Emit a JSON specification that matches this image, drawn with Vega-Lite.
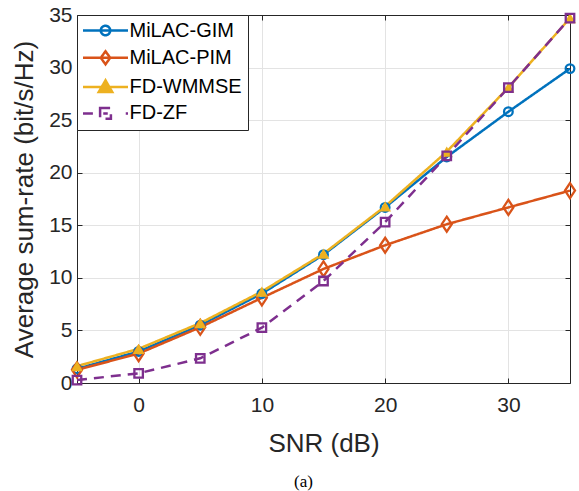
{
  "$schema": "https://vega.github.io/schema/vega-lite/v6.json",
  "width": 493,
  "height": 368,
  "autosize": {"type": "none"},
  "padding": {"left": 77, "top": 15, "right": 9, "bottom": 108},
  "background": "white",
  "title": {"text": "(a)", "orient": "bottom", "anchor": "middle", "frame": "group", "font": "Liberation Serif", "fontSize": 17, "fontWeight": "normal", "color": "#000000", "offset": 18, "dx": -20},
  "config": {
    "view": {"stroke": null},
    "axis": {"domainColor": "#262626", "tickColor": "#262626", "labelColor": "#262626", "titleColor": "#262626", "labelFont": "Liberation Sans", "titleFont": "Liberation Sans", "labelFontSize": 21, "titleFontSize": 26, "titleFontWeight": "normal", "gridColor": "#e3e3e3", "gridWidth": 1, "tickSize": -5, "domainWidth": 1, "tickWidth": 1}
  },
  "data": {"values": [
    {"snr": -5, "rate": 1.35, "series": "MiLAC-GIM"},
    {"snr": 0, "rate": 3.0, "series": "MiLAC-GIM"},
    {"snr": 5, "rate": 5.5, "series": "MiLAC-GIM"},
    {"snr": 10, "rate": 8.5, "series": "MiLAC-GIM"},
    {"snr": 15, "rate": 12.2, "series": "MiLAC-GIM"},
    {"snr": 20, "rate": 16.7, "series": "MiLAC-GIM"},
    {"snr": 25, "rate": 21.5, "series": "MiLAC-GIM"},
    {"snr": 30, "rate": 25.8, "series": "MiLAC-GIM"},
    {"snr": 35, "rate": 29.9, "series": "MiLAC-GIM"},
    {"snr": -5, "rate": 1.25, "series": "MiLAC-PIM"},
    {"snr": 0, "rate": 2.8, "series": "MiLAC-PIM"},
    {"snr": 5, "rate": 5.3, "series": "MiLAC-PIM"},
    {"snr": 10, "rate": 8.1, "series": "MiLAC-PIM"},
    {"snr": 15, "rate": 10.85, "series": "MiLAC-PIM"},
    {"snr": 20, "rate": 13.1, "series": "MiLAC-PIM"},
    {"snr": 25, "rate": 15.1, "series": "MiLAC-PIM"},
    {"snr": 30, "rate": 16.7, "series": "MiLAC-PIM"},
    {"snr": 35, "rate": 18.3, "series": "MiLAC-PIM"},
    {"snr": -5, "rate": 1.6, "series": "FD-WMMSE"},
    {"snr": 0, "rate": 3.25, "series": "FD-WMMSE"},
    {"snr": 5, "rate": 5.7, "series": "FD-WMMSE"},
    {"snr": 10, "rate": 8.7, "series": "FD-WMMSE"},
    {"snr": 15, "rate": 12.3, "series": "FD-WMMSE"},
    {"snr": 20, "rate": 16.8, "series": "FD-WMMSE"},
    {"snr": 25, "rate": 22.0, "series": "FD-WMMSE"},
    {"snr": 30, "rate": 28.1, "series": "FD-WMMSE"},
    {"snr": 35, "rate": 34.7, "series": "FD-WMMSE"},
    {"snr": -5, "rate": 0.28, "series": "FD-ZF"},
    {"snr": 0, "rate": 0.92, "series": "FD-ZF"},
    {"snr": 5, "rate": 2.35, "series": "FD-ZF"},
    {"snr": 10, "rate": 5.26, "series": "FD-ZF"},
    {"snr": 15, "rate": 9.7, "series": "FD-ZF"},
    {"snr": 20, "rate": 15.3, "series": "FD-ZF"},
    {"snr": 25, "rate": 21.6, "series": "FD-ZF"},
    {"snr": 30, "rate": 28.1, "series": "FD-ZF"},
    {"snr": 35, "rate": 34.7, "series": "FD-ZF"}
  ]},
  "resolve": {"axis": {"x": "independent", "y": "independent"}},
  "layer": [
    {
      "mark": {"type": "line", "strokeWidth": 2.5},
      "encoding": {
        "x": {"field": "snr", "type": "quantitative", "scale": {"domain": [-5, 35], "nice": false, "zero": false},
          "axis": {"orient": "bottom", "values": [0, 10, 20, 30], "title": "SNR (dB)", "grid": true, "labelBaseline": "alphabetic", "labelPadding": 33, "titleBaseline": "alphabetic", "titleY": 68}},
        "y": {"field": "rate", "type": "quantitative", "scale": {"domain": [0, 35], "nice": false},
          "axis": {"orient": "left", "values": [0, 5, 10, 15, 20, 25, 30, 35], "title": "Average sum-rate (bit/s/Hz)", "grid": true, "labelPadding": 10, "titleBaseline": "alphabetic", "titleX": -45}},
        "color": {"field": "series", "type": "nominal",
          "scale": {"domain": ["MiLAC-GIM", "MiLAC-PIM", "FD-WMMSE", "FD-ZF"], "range": ["#0072BD", "#D95319", "#EDB120", "#7E2F8E"]},
          "legend": {"title": null, "orient": "top-left", "offset": 0, "direction": "vertical", "strokeColor": "#262626", "fillColor": "white", "padding": 5.5, "labelFontSize": 20, "labelFont": "Liberation Sans", "labelColor": "#000000", "symbolSize": 81, "symbolStrokeWidth": 2.5, "symbolOffset": 13, "labelOffset": 14, "rowPadding": 5.3,
            "encoding": {"symbols": {
              "shape": {"value": {"expr": "datum.value === 'MiLAC-GIM' ? 'M-5,0L5,0M1.05,0A1.05,1.05,0,1,1,-1.05,0A1.05,1.05,0,1,1,1.05,0Z' : datum.value === 'MiLAC-PIM' ? 'M-5,0L5,0M0,-1.45L1.05,0L0,1.45L-1.05,0Z' : datum.value === 'FD-WMMSE' ? 'M-5,0L5,0M0,-1.5L1.5,1.1L-1.5,1.1Z' : 'M-5,0L-2.8,0M4.5,0L5,0M-0.5,0L0.5,0M-1.2,-1.2L1.2,-1.2L1.2,1.2L-1.2,1.2Z'"}},
              "fill": {"value": {"expr": "datum.value === 'FD-WMMSE' ? '#EDB120' : 'transparent'"}},
              "strokeDash": {"value": [1, 0]},
              "size": {"value": 81},
              "strokeWidth": {"value": 2.5},
              "opacity": {"value": 1}
            }}}},
        "strokeDash": {"field": "series", "type": "nominal", "legend": null,
          "scale": {"domain": ["MiLAC-GIM", "MiLAC-PIM", "FD-WMMSE", "FD-ZF"], "range": [[1, 0], [1, 0], [1, 0], [10, 7]]}}
      }
    },
    {
      "transform": [{"filter": "datum.series === 'MiLAC-GIM'"}],
      "mark": {"type": "point", "shape": "circle", "size": 75, "strokeWidth": 2.3, "filled": false, "color": "#0072BD", "opacity": 1},
      "encoding": {
        "x": {"field": "snr", "type": "quantitative", "axis": {"orient": "top", "values": [0, 10, 20, 30], "labels": false, "grid": false, "title": null}},
        "y": {"field": "rate", "type": "quantitative", "axis": {"orient": "right", "values": [0, 5, 10, 15, 20, 25, 30, 35], "labels": false, "grid": false, "title": null}}
      }
    },
    {
      "transform": [{"filter": "datum.series === 'MiLAC-PIM'"}],
      "mark": {"type": "point", "shape": "M0,-1.5L1,0L0,1.5L-1,0Z", "size": 100, "strokeWidth": 2.3, "filled": false, "color": "#D95319", "opacity": 1},
      "encoding": {
        "x": {"field": "snr", "type": "quantitative", "axis": null},
        "y": {"field": "rate", "type": "quantitative", "axis": null}
      }
    },
    {
      "transform": [{"filter": "datum.series === 'FD-WMMSE'"}],
      "mark": {"type": "point", "shape": "triangle-up", "size": 140, "strokeWidth": 1.5, "filled": true, "color": "#EDB120", "opacity": 1},
      "encoding": {
        "x": {"field": "snr", "type": "quantitative", "axis": null},
        "y": {"field": "rate", "type": "quantitative", "axis": null}
      }
    },
    {
      "transform": [{"filter": "datum.series === 'FD-ZF'"}],
      "mark": {"type": "point", "shape": "square", "size": 72, "strokeWidth": 2.3, "filled": false, "color": "#7E2F8E", "opacity": 1},
      "encoding": {
        "x": {"field": "snr", "type": "quantitative", "axis": null},
        "y": {"field": "rate", "type": "quantitative", "axis": null}
      }
    }
  ]
}
